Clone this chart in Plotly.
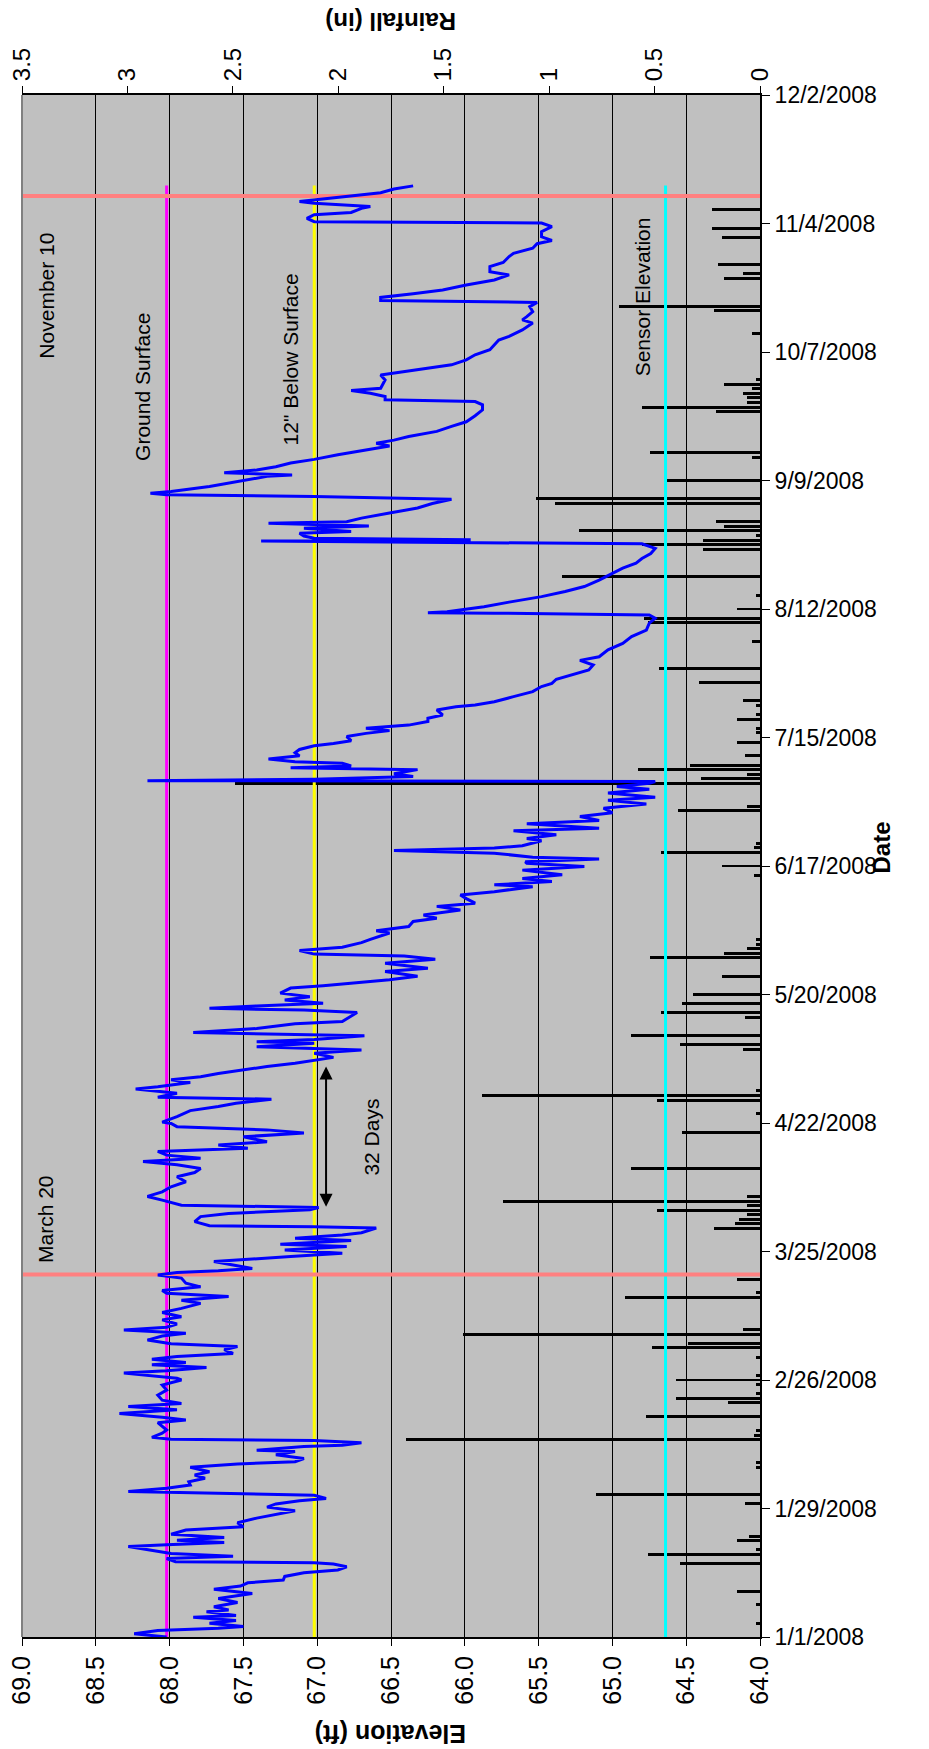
import pandas as pd
import plotly.graph_objects as go

base = pd.Timestamp("2008-01-01")

# water level (days since 1/1/2008, elevation ft)
elev_day = [0.0, 0.7, 1.4, 1.9, 2.3, 3.0, 3.6, 4.3, 4.7, 5.5, 5.9, 6.6, 7.5, 8.4, 9.5, 10.4, 11.1, 11.8, 12.4, 13.2,
            14.0, 14.6, 15.3, 15.9, 16.2, 16.4, 17.1, 17.6, 18.2, 18.8, 19.7, 20.1, 20.6, 21.1, 21.7, 22.4, 23.3, 24.0,
            24.9, 25.9, 26.9, 27.5, 28.3, 29.0, 29.7, 30.2, 30.9, 31.7, 32.4, 33.1, 33.8, 34.6, 35.3, 36.0, 37.0, 37.7,
            38.2, 38.9, 39.7, 40.4, 40.7, 41.5, 41.8, 42.3, 42.8, 43.1, 43.5, 44.4, 45.1, 45.8, 46.7, 47.3, 47.9, 48.7,
            49.5, 50.2, 50.9, 51.6, 52.7, 53.8, 54.9, 56.0,
            56.4, 57.5, 58.0, 58.7, 59.3, 59.8, 60.5, 61.1, 61.8, 62.6, 63.3, 63.9, 64.7, 65.6, 66.2, 66.9, 67.5, 68.2,
            69.1, 69.8, 70.7, 71.6, 72.7, 73.4, 74.2, 74.9, 75.5, 76.3, 77.1, 78.2, 78.9, 79.4, 79.8, 80.3, 81.1, 81.8,
            82.9, 83.6, 84.3, 85.1, 85.6, 86.4, 86.9, 87.6, 88.1, 89.1, 89.4, 89.6, 90.5, 91.6, 92.3, 93.1, 93.6, 94.1,
            95.2, 96.0, 97.0, 98.1, 99.2, 100.3, 101.2, 102.1, 102.9, 103.6, 104.3, 105.0, 105.8, 106.5, 107.2, 107.9,
            109.0, 109.8, 110.5, 111.2, 111.9,
            112.2, 113.4, 114.7, 115.6, 116.3, 117.2, 117.6, 118.5, 119.4, 119.9, 120.8, 121.4, 122.1, 122.8, 123.6,
            124.3, 125.0, 125.7, 126.3, 127.2, 127.9, 128.6, 129.4, 129.7, 130.2, 131.0, 131.7, 132.6, 133.6, 134.1,
            135.2, 136.1, 136.6, 137.0, 137.5, 138.1, 138.8, 139.5, 140.3, 141.4, 141.9, 142.4, 143.2, 144.0, 145.0,
            145.7, 146.8, 147.7, 148.4, 148.8, 149.6, 150.3, 151.3, 152.0, 153.4, 153.9, 154.8, 155.9, 156.6, 157.3,
            158.4, 159.2, 159.9, 160.9, 161.7, 162.4, 163.5, 163.9, 164.6, 165.3, 166.1, 167.1, 167.9, 168.6,
            168.9, 169.5, 169.9, 170.8, 171.4, 171.9, 172.4, 173.5, 174.0, 174.8, 175.7, 176.2, 177.2, 177.9, 178.8,
            179.6, 180.6, 181.5, 182.3, 183.0, 183.9, 184.7, 185.3, 186.0, 186.4, 186.6, 186.9, 187.5, 188.1, 189.0,
            189.4, 189.8, 190.4, 190.7, 191.3, 192.0, 192.7, 193.4, 194.2, 194.7, 195.3, 196.2, 196.9, 197.5, 198.0,
            198.7, 199.5, 200.2, 200.9, 202.0, 202.7, 203.1, 203.8, 204.9, 206.0, 207.1, 207.8, 208.7, 209.6, 210.7,
            211.8, 212.8, 213.6, 215.1, 216.5, 218.0, 219.4, 220.9, 222.0, 222.7, 223.1, 223.2, 223.4, 224.5,
            225.5, 226.7, 227.8, 228.9, 230.3, 231.8, 232.9, 234.0, 235.0, 236.1, 237.2, 238.2, 238.5, 238.8, 239.1,
            239.4, 239.9, 240.5, 240.9, 241.6, 242.1, 242.7, 243.0, 243.8, 244.9, 246.0, 247.0, 247.9, 248.5, 248.9,
            249.2, 249.6, 250.7, 251.8, 252.9, 253.2, 253.7, 254.3, 255.0, 255.8, 256.6, 257.6, 258.7, 259.5, 260.1,
            260.8, 261.6, 262.7, 263.8, 264.8, 266.1, 267.4, 268.5, 269.2, 269.6, 270.3, 271.0, 271.6, 272.1, 273.9,
            275.0, 275.4, 276.1, 277.2, 278.3, 279.4, 280.5, 281.5, 282.6,
            283.4, 284.8, 286.3, 287.0, 287.7, 288.8, 289.9, 290.8, 291.2, 291.9, 292.7, 293.5, 294.6, 295.7, 296.8,
            297.5, 298.6, 299.5, 300.8, 301.5, 302.6, 303.6, 304.3, 305.1, 306.2, 307.3, 308.1, 308.4, 309.1, 309.9,
            310.4, 311.3, 311.7, 312.4, 312.8, 313.5, 314.0, 314.7, 315.5, 316.2]
elev_ft = [68.02, 68.24, 68.08, 67.67, 67.50, 67.73, 67.55, 67.84, 67.55, 67.75, 67.60, 67.70, 67.54, 67.67, 67.44,
           67.70, 67.52, 67.47, 67.23, 67.22, 67.09, 66.86, 66.80, 66.89, 67.02, 67.96, 68.02, 67.57, 67.99, 68.12,
           68.28, 68.02, 67.63, 67.95, 67.63, 67.99, 67.89, 67.50, 67.54, 67.41, 67.26, 67.15, 67.34, 67.28, 67.12,
           66.94, 67.02, 68.28, 68.02, 67.86, 67.87, 67.76, 67.83, 67.73, 67.86, 67.54, 67.15, 67.09, 67.28, 67.15,
           67.41, 67.09, 66.83, 66.70, 67.02, 67.99, 68.12, 68.05, 68.02, 68.05, 68.08, 67.89, 68.05, 68.34, 67.95,
           68.28, 67.92, 68.05, 68.08, 68.02, 68.05, 67.92,
           67.95, 68.31, 68.02, 67.75, 68.12, 67.89, 68.12, 67.95, 67.57, 67.63, 67.54, 67.99, 68.15, 68.05, 67.89,
           68.31, 68.02, 67.95, 68.05, 67.92, 68.05, 67.92, 67.79, 67.92, 67.60, 68.02, 68.05, 67.79, 67.89, 67.92,
           68.08, 67.95, 67.67, 67.44, 67.57, 67.70, 67.18, 66.83, 67.22, 66.80, 67.25, 66.77, 67.15, 66.83, 66.70,
           66.60, 67.02, 67.73, 67.83, 67.79, 67.60, 67.05, 66.99, 67.92, 68.05, 68.15, 68.05, 67.99, 67.89, 67.95,
           67.83, 67.79, 67.95, 68.18, 67.79, 68.02, 68.08, 67.47, 67.67, 67.34, 67.50, 67.09, 67.34, 67.95, 67.99,
           68.05, 67.95, 67.86, 67.67, 67.55, 67.31, 68.08, 67.95, 68.23, 68.08, 67.86, 67.99, 67.79, 67.67, 67.50,
           67.34, 67.15, 67.02, 66.89, 67.02, 66.70, 67.41, 67.02, 67.41, 67.02, 66.68, 67.84, 67.41, 67.15, 66.83,
           66.77, 66.73, 67.09, 67.73, 67.41, 66.96, 67.22, 67.05, 67.25, 67.18, 66.96, 66.77, 66.51, 66.32, 66.54,
           66.25, 66.54, 66.20, 66.41, 67.02, 67.12, 66.83, 66.70, 66.64, 66.51, 66.60, 66.38, 66.35, 66.19, 66.28,
           66.03, 66.19, 65.93, 65.99, 66.03, 65.80, 65.54, 65.80, 65.41, 65.61, 65.34, 65.61, 65.19, 65.58,
           65.59, 65.09, 65.54, 65.80, 66.48, 65.80, 65.61, 65.48, 65.58, 65.38, 65.67, 65.09, 65.58, 65.09, 65.22,
           65.00, 65.06, 64.77, 65.03, 64.71, 65.03, 64.75, 64.97, 64.75, 64.71, 68.15, 67.02, 66.35, 66.48, 66.32,
           67.18, 66.77, 66.83, 67.15, 67.33, 67.12, 67.15, 67.12, 67.02, 66.89, 66.77, 66.80, 66.67, 66.51, 66.67,
           66.38, 66.25, 66.25, 66.15, 66.19, 66.06, 65.93, 65.80, 65.67, 65.54, 65.48, 65.41, 65.38, 65.28, 65.16,
           65.13, 65.22, 65.09, 65.03, 64.93, 64.87, 64.77, 64.75, 64.71, 64.75, 65.80, 66.25, 66.12, 65.87,
           65.70, 65.48, 65.32, 65.19, 65.09, 65.00, 64.93, 64.84, 64.80, 64.74, 64.71, 64.80, 65.99, 67.38, 65.96,
           67.02, 67.09, 67.12, 66.77, 67.09, 66.65, 67.33, 66.80, 66.70, 66.51, 66.32, 66.22, 66.09, 67.02, 68.02,
           68.13, 67.99, 67.73, 67.54, 67.34, 67.17, 67.63, 67.41, 67.28, 67.18, 67.02, 66.86, 66.67, 66.51, 66.60,
           66.48, 66.38, 66.19, 66.09, 65.99, 65.93, 65.88, 65.88, 65.93, 66.54, 66.54, 66.64, 66.77, 66.57, 66.54,
           66.57, 66.48, 66.35, 66.09, 65.99, 65.93, 65.83, 65.80, 65.77,
           65.70, 65.61, 65.54, 65.61, 65.58, 65.54, 65.56, 65.51, 66.57, 66.57, 66.35, 66.15, 65.99, 65.80, 65.70,
           65.83, 65.83, 65.74, 65.70, 65.67, 65.54, 65.51, 65.41, 65.48, 65.48, 65.41, 65.48, 67.02, 67.07, 67.02,
           66.77, 66.70, 66.64, 67.02, 67.12, 66.93, 66.77, 66.57, 66.48, 66.35]

# daily rainfall (days since 1/1/2008, inches)
rain_day = [3, 7, 10, 16, 18, 19, 21, 22, 29, 31, 37, 38, 43, 44, 45, 48, 51, 52, 53, 55, 56, 57, 61, 63, 64, 66,
            67, 74, 75, 78, 89, 90, 91, 92, 93, 94, 95, 96, 102, 110, 114, 117, 118, 119, 128, 129, 131, 135, 136,
            138, 140, 144, 148, 149, 150, 151, 152, 166, 168, 171, 172, 173, 180, 181, 186, 187, 188, 189, 190, 192,
            195, 197, 198, 200, 201, 203, 204, 208, 211, 217, 221, 222, 224, 227, 231, 237, 238, 239, 240, 241, 242,
            243, 247, 248, 252, 257, 258, 267, 268, 269, 270, 271, 272, 273, 274, 284, 289, 290, 296, 297, 299, 305,
            307, 311]
rain_in = [0.02, 0.02, 0.11, 0.38, 0.53, 0.02, 0.11, 0.05, 0.07, 0.78, 0.02, 0.02, 1.68, 0.03, 0.02, 0.54, 0.15,
           0.40, 0.02, 0.02, 0.40, 0.02, 0.02, 0.51, 0.34, 1.41, 0.08, 0.64, 0.02, 0.11, 0.22, 0.12, 0.10, 0.06,
           0.49, 0.06, 1.22, 0.06, 0.61, 0.37, 0.02, 0.49, 1.32, 0.02, 0.08, 0.38, 0.61, 0.07, 0.47, 0.37, 0.32,
           0.18, 0.52, 0.17, 0.06, 0.02, 0.02, 0.03, 0.18, 0.47, 0.03, 0.02, 0.39, 0.06, 2.49, 0.28, 0.06, 0.58,
           0.33, 0.07, 0.11, 0.02, 0.02, 0.11, 0.02, 0.02, 0.08, 0.29, 0.48, 0.04, 0.53, 0.55, 0.11, 0.02, 0.94,
           0.27, 0.56, 0.27, 0.02, 0.86, 0.17, 0.21, 0.97, 1.06, 0.45, 0.04, 0.52, 0.21, 0.56, 0.06, 0.06, 0.08,
           0.04, 0.17, 0.02, 0.04, 0.22, 0.67, 0.17, 0.08, 0.20, 0.18, 0.23, 0.23]

# reference levels (ft) and the period they are drawn for
ground_surface = 68.02
below_12in = 67.02
sensor_elev = 64.64
ref_span = [0.0, 316.3]
event_dates = ["2008-03-20", "2008-11-10"]

date_ticks = ["2008-01-01", "2008-01-29", "2008-02-26", "2008-03-25", "2008-04-22", "2008-05-20", "2008-06-17",
              "2008-07-15", "2008-08-12", "2008-09-09", "2008-10-07", "2008-11-04", "2008-12-02"]
elev_ticks = [64.0, 64.5, 65.0, 65.5, 66.0, 66.5, 67.0, 67.5, 68.0, 68.5, 69.0]
rain_ticks = [0, 0.5, 1, 1.5, 2, 2.5, 3, 3.5]


def to_date(days):
    return base + pd.to_timedelta(pd.Series(days, dtype=float), unit="D")


FONT = "Liberation Sans, Arial, sans-serif"
fig = go.Figure()

# rainfall bars on the base axis so the lines sit on top of them
fig.add_trace(go.Bar(x=rain_in, y=to_date(rain_day), orientation="h", xaxis="x", yaxis="y",
                     marker=dict(color="black", line=dict(width=0)), width=0.65 * 86400000))

span = to_date(ref_span)
for lvl, col in [(ground_surface, "#FF00FF"), (below_12in, "#FFFF00"), (sensor_elev, "#00FFFF")]:
    fig.add_trace(go.Scatter(x=[lvl, lvl], y=span, mode="lines", xaxis="x2", yaxis="y",
                             line=dict(color=col, width=3)))
for d in event_dates:
    fig.add_trace(go.Scatter(x=[69, 64], y=[d, d], mode="lines", xaxis="x2", yaxis="y",
                             line=dict(color="#FF8080", width=4)))

fig.add_trace(go.Scatter(x=elev_ft, y=to_date(elev_day), mode="lines", xaxis="x2", yaxis="y",
                         line=dict(color="#0000FF", width=3)))

# page body adds an 8px offset, so the figure is 8px smaller on each axis
fig.update_layout(
    width=921, height=1741,
    margin=dict(l=14, r=169, t=87, b=112, autoexpand=False),
    paper_bgcolor="white", plot_bgcolor="#C0C0C0",
    showlegend=False, bargap=0,
    font=dict(family=FONT, color="black"),
    xaxis=dict(range=[3.5, 0], side="top", tickvals=rain_ticks, ticktext=[f"{t:g}" for t in rain_ticks],
               tickangle=-90, tickfont=dict(size=24), showgrid=False, zeroline=False, automargin=False,
               ticklabeloverflow="allow",
               showline=True, linecolor="black", linewidth=2, ticks="outside", ticklen=7,
               tickcolor="black", anchor="y"),
    xaxis2=dict(range=[69, 64], side="bottom", overlaying="x", anchor="y", tickvals=elev_ticks,
                ticktext=[f"{t:.1f}" for t in elev_ticks], tickangle=-90, tickfont=dict(size=25),
                showgrid=True, gridcolor="black", gridwidth=1, zeroline=False, automargin=False,
                ticklabeloverflow="allow",
                showline=True, linecolor="black", linewidth=2, ticks="outside", ticklen=7, tickcolor="black"),
    yaxis=dict(type="date", side="right", range=["2008-01-01", "2008-12-02"], tickvals=date_ticks,
               ticktext=[f"{d.month}/{d.day}/{d.year}" for d in pd.to_datetime(date_ticks)],
               tickfont=dict(size=23), showgrid=False, zeroline=False, showline=True, automargin=False,
               ticklabeloverflow="allow",
               linecolor="black", linewidth=2, ticks="outside", ticklen=8, tickcolor="black"),
)

fig.add_shape(type="line", xref="paper", yref="paper", x0=0, x1=0, y0=0, y1=1,
              line=dict(color="#808080", width=2))

labels = [("Ground Surface", 68.18, 272.4), ('12" Below Surface', 67.18, 278.3),
          ("Sensor Elevation", 64.79, 292.0), ("March 20", 68.84, 91.0),
          ("November 10", 68.84, 292.2), ("32 Days", 66.63, 109.0)]
for txt, xv, dv in labels:
    fig.add_annotation(text=txt, x=xv, y=base + pd.Timedelta(days=dv), xref="x2", yref="y",
                       textangle=-90, showarrow=False, font=dict(size=21, family=FONT),
                       xanchor="center", yanchor="middle")

fig.add_annotation(x=66.94, y=base + pd.Timedelta(days=124.3), ax=66.94, ay=base + pd.Timedelta(days=93.4),
                   xref="x2", yref="y", axref="x2", ayref="y", text="", showarrow=True,
                   arrowhead=2, arrowside="end+start", arrowsize=1.3, arrowwidth=2, arrowcolor="black")

fig.add_annotation(text="<b>Elevation (ft)</b>", xref="paper", yref="paper", x=0.5, y=-0.0625,
                   textangle=180, showarrow=False, font=dict(size=25, family=FONT),
                   xanchor="center", yanchor="middle")
fig.add_annotation(text="<b>Rainfall (in)</b>", xref="paper", yref="paper", x=0.5, y=1.0473,
                   textangle=180, showarrow=False, font=dict(size=24, family=FONT),
                   xanchor="center", yanchor="middle")
fig.add_annotation(text="<b>Date</b>", xref="paper", yref="paper", x=1.164, y=0.512,
                   textangle=-90, showarrow=False, font=dict(size=24, family=FONT),
                   xanchor="center", yanchor="middle")

fig.write_html("out.html")
